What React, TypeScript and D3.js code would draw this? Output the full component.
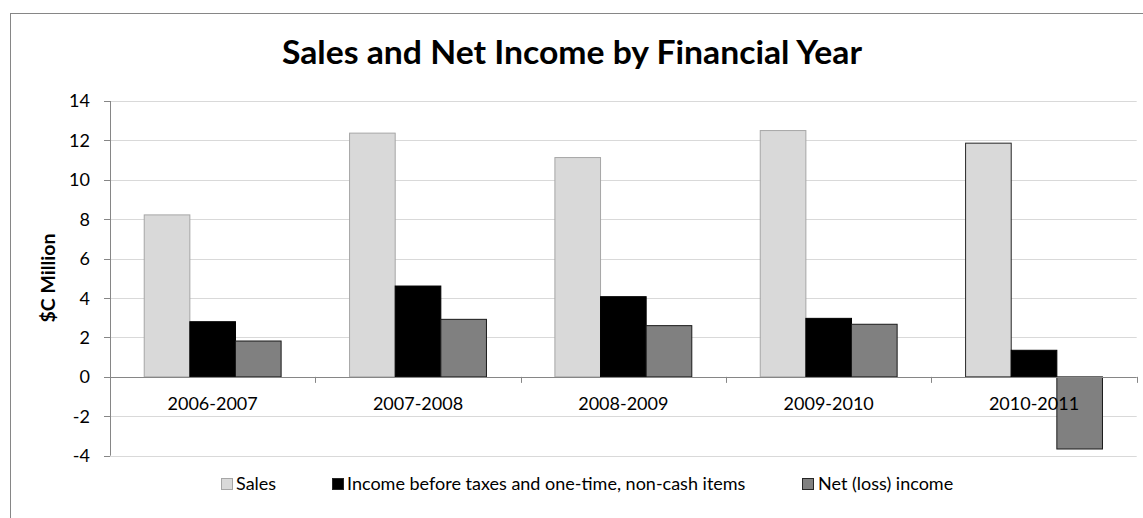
import React from "react";
import * as d3 from "d3";

const categories = ["2006-2007", "2007-2008", "2008-2009", "2009-2010", "2010-2011"];
const seriesNames = ["Sales", "Income before taxes and one-time, non-cash items", "Net (loss) income"];
const sales = [8.22, 12.37, 11.13, 12.5, 11.86];
const incomeBeforeTaxes = [2.8, 4.61, 4.07, 2.97, 1.35];
const netIncome = [1.82, 2.92, 2.6, 2.67, -3.66];
const yTicks = [-4, -2, 0, 2, 4, 6, 8, 10, 12, 14];

const W = 1143;
const H = 518;
const FONT = "Lato, 'Open Sans', sans-serif";

const plot = { left: 110, right: 1136.7, top: 101, bottom: 455.7 };

const fills = ["#d9d9d9", "#000000", "#808080"];
const strokes = ["#a6a6a6", "#000000", "#1a1a1a"];

export default function App() {
  const series = [sales, incomeBeforeTaxes, netIncome];
  const x0 = d3.scaleBand<string>().domain(categories).range([plot.left, plot.right]).paddingInner(0).paddingOuter(0);
  const bw = x0.bandwidth();
  const barW = bw / 4.5;
  const x1 = d3.scaleBand<number>().domain([0, 1, 2]).range([barW * 0.75, barW * 3.75]).padding(0);
  const y = d3.scaleLinear().domain([-4, 14]).range([plot.bottom, plot.top]);

  const legendItems = [
    { x: 221, textX: 236 },
    { x: 332, textX: 347 },
    { x: 802, textX: 818 },
  ];

  return (
    <svg width={W} height={H} style={{ position: "absolute", left: 0, top: 0, background: "#fff" }} fontFamily={FONT}>
      <rect x={10.5} y={13.5} width={W + 20} height={H + 20} fill="#fff" stroke="#868686" strokeWidth={1} />
      <text x={572} y={64} textAnchor="middle" fontSize={33} fontWeight={700} fill="#000" textLength={580} lengthAdjust="spacingAndGlyphs">
        Sales and Net Income by Financial Year
      </text>
      {/* gridlines */}
      {yTicks.map((t) => (
        <line key={"g" + t} x1={plot.left} x2={plot.right} y1={Math.round(y(t)) + 0.5} y2={Math.round(y(t)) + 0.5} stroke="#d9d9d9" strokeWidth={1} />
      ))}
      {/* bars */}
      {categories.map((c, ci) => (
        <g key={c}>
          {series.map((s, si) => {
            const v = s[ci];
            const yTop = y(Math.max(0, v));
            const yBot = y(Math.min(0, v));
            const stroke = si === 0 && ci === categories.length - 1 ? "#262626" : strokes[si];
            return (
              <rect
                key={si}
                x={(x0(c) as number) + (x1(si) as number)}
                y={yTop}
                width={x1.bandwidth()}
                height={yBot - yTop}
                fill={fills[si]}
                stroke={stroke}
                strokeWidth={1}
              />
            );
          })}
        </g>
      ))}
      {/* y axis */}
      <line x1={plot.left + 0.5} x2={plot.left + 0.5} y1={plot.top} y2={plot.bottom} stroke="#868686" />
      {yTicks.map((t) => (
        <g key={"t" + t}>
          <line x1={plot.left - 6} x2={plot.left} y1={Math.round(y(t)) + 0.5} y2={Math.round(y(t)) + 0.5} stroke="#868686" />
          <text x={90} y={y(t)} dy="0.36em" textAnchor="end" fontSize={18} fill="#000">
            {t}
          </text>
        </g>
      ))}
      {/* x axis at zero */}
      <line x1={plot.left} x2={plot.right} y1={Math.round(y(0)) + 0.5} y2={Math.round(y(0)) + 0.5} stroke="#868686" />
      {categories.map((c) => (
        <line key={"xt" + c} x1={Math.round((x0(c) as number) + bw) + 0.5} x2={Math.round((x0(c) as number) + bw) + 0.5} y1={y(0)} y2={y(0) + 6} stroke="#868686" />
      ))}
      {categories.map((c) => (
        <text key={"xl" + c} x={(x0(c) as number) + bw / 2} y={410} textAnchor="middle" fontSize={18} fill="#000">
          {c}
        </text>
      ))}
      {/* y axis title */}
      <text transform={`translate(55,278) rotate(-90)`} textAnchor="middle" fontSize={19.5} fontWeight={700} fill="#000">
        $C Million
      </text>
      {/* legend */}
      {seriesNames.map((n, i) => (
        <g key={n}>
          <rect x={legendItems[i].x + 0.5} y={478.5} width={11} height={11} fill={fills[i]} stroke={i === 0 ? "#a6a6a6" : "#262626"} />
          <text x={legendItems[i].textX} y={490} fontSize={18} fill="#000">
            {n}
          </text>
        </g>
      ))}
    </svg>
  );
}
